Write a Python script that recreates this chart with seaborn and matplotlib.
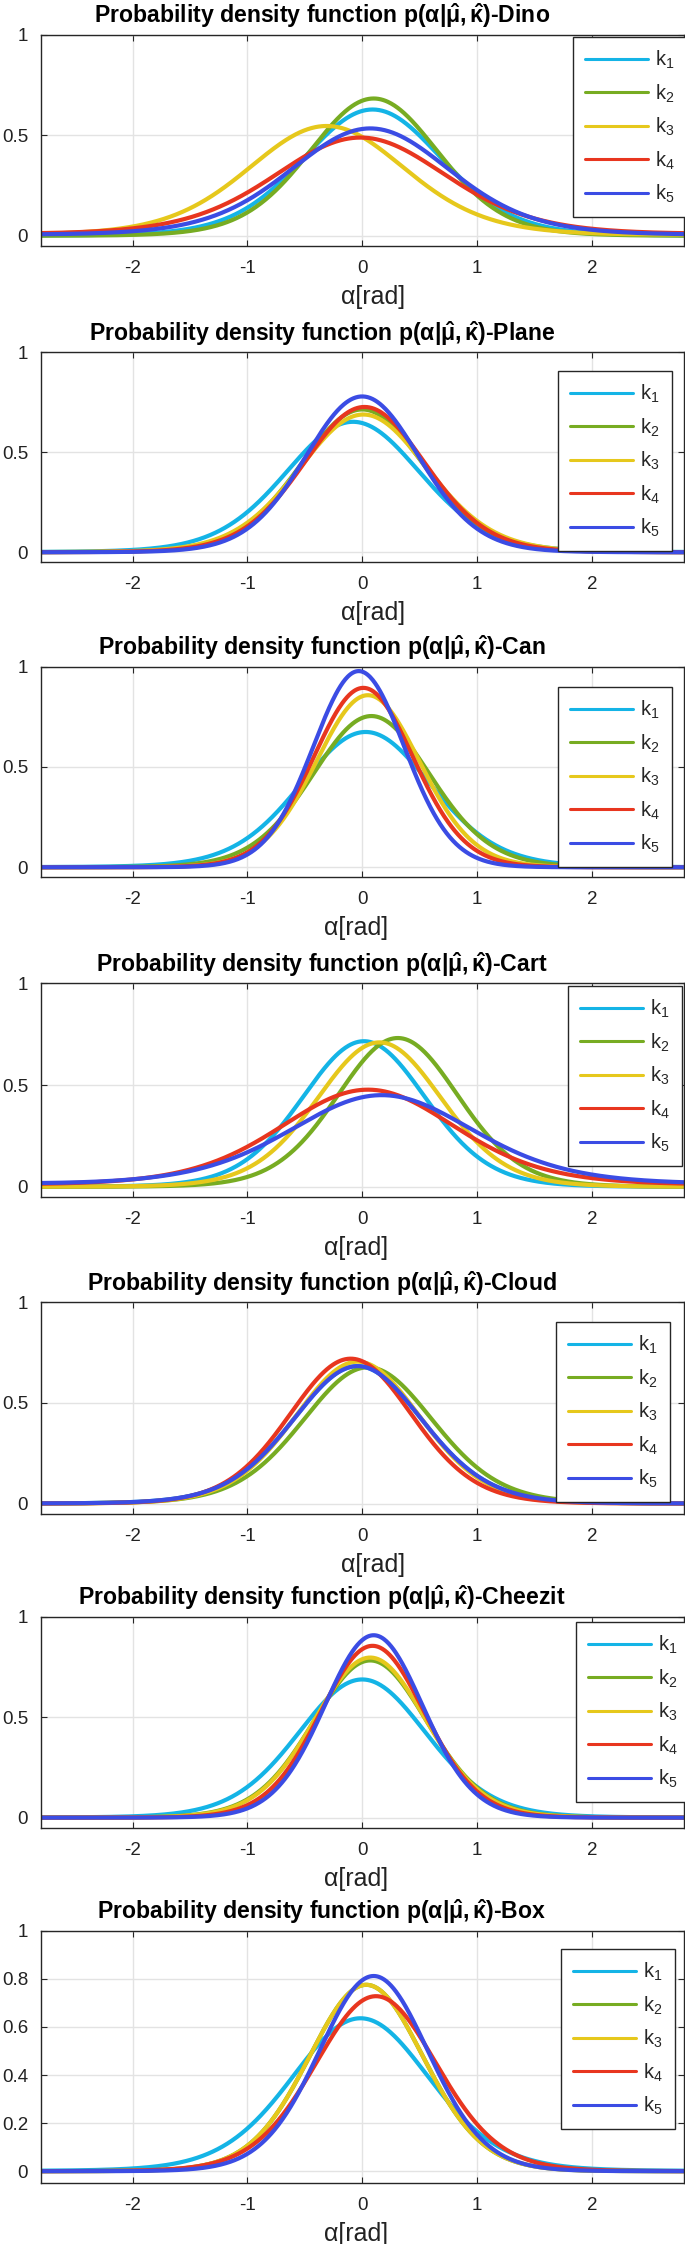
import numpy as np
import pandas as pd
import matplotlib
matplotlib.use("Agg")
import matplotlib.pyplot as plt
import seaborn as sns

# ---------------- data ----------------
objects = ["Dino", "Plane", "Can", "Cart", "Cloud", "Cheezit", "Box"]
series_labels = ["k$_1$", "k$_2$", "k$_3$", "k$_4$", "k$_5$"]

# estimated von Mises location (mu, rad) and concentration (kappa) of curves k1..k5
mu_dino = [0.09, 0.10, -0.31, -0.015, 0.07]
kappa_dino = [2.79, 3.23, 2.20, 1.83, 2.12]
mu_plane = [-0.08, 0.0, 0.01, 0.02, 0.0]
kappa_plane = [2.98, 3.50, 3.28, 3.61, 4.10]
mu_can = [0.03, 0.08, 0.05, 0.01, -0.03]
kappa_can = [3.16, 3.86, 4.90, 5.30, 6.28]
mu_cart = [0.015, 0.31, 0.15, 0.05, 0.17]
kappa_cart = [3.51, 3.65, 3.46, 1.76, 1.60]
mu_cloud = [-0.04, 0.05, -0.04, -0.10, -0.04]
kappa_cloud = [3.23, 3.18, 3.42, 3.55, 3.23]
mu_cheezit = [0.0, 0.07, 0.07, 0.09, 0.10]
kappa_cheezit = [3.27, 4.13, 4.27, 4.87, 5.45]
mu_box = [-0.015, 0.035, 0.035, 0.12, 0.10]
kappa_box = [2.85, 4.06, 4.06, 3.62, 4.42]

mus = [mu_dino, mu_plane, mu_can, mu_cart, mu_cloud, mu_cheezit, mu_box]
kappas = [kappa_dino, kappa_plane, kappa_can, kappa_cart, kappa_cloud, kappa_cheezit, kappa_box]

xticks = [-2, -1, 0, 1, 2]
yticks_std = [0, 0.5, 1]
yticklabels_std = ["0", "0.5", "1"]
yticks_box = [0, 0.2, 0.4, 0.6, 0.8, 1]
yticklabels_box = ["0", "0.2", "0.4", "0.6", "0.8", "1"]

colors = ["#14B4E6", "#77AC22", "#E6C81C", "#E8361F", "#3B4CE4"]

# ---------------- style ----------------
sns.set_theme(style="whitegrid")
plt.rcParams["font.family"] = ["Liberation Sans", "DejaVu Sans"]
plt.rcParams["mathtext.fontset"] = "custom"
plt.rcParams["mathtext.rm"] = "Liberation Sans"
plt.rcParams["mathtext.it"] = "Liberation Sans:italic"
plt.rcParams["mathtext.bf"] = "Liberation Sans:bold"
plt.rcParams["mathtext.default"] = "regular"

W, H = 685, 2244
fig = plt.figure(figsize=(W / 100, H / 100), dpi=100)
fig.patch.set_facecolor("white")


def fx(px):
    return px / W


def fy(py):
    return 1 - py / H


ax_left, ax_right = 40.7, 683.7
ax_tops = [34.7, 352.3, 666.7, 983.3, 1302.3, 1616.7, 1930.7]
ax_bottoms = [246.0, 562.3, 877.3, 1197.0, 1513.7, 1827.7, 2183.3]
xlabel_cx = [373, 373, 356, 356, 373, 356, 356]
legend_boxes = [(573, 37), (558, 371), (558, 687), (568, 986), (556, 1322), (576, 1622), (561, 1949)]

alpha = np.linspace(-2.8, 2.8, 801)
dark = "#262626"

for i, name in enumerate(objects):
    top, bot = ax_tops[i], ax_bottoms[i]
    ax = fig.add_axes([fx(ax_left), fy(bot), fx(ax_right) - fx(ax_left), (bot - top) / H])
    frames = []
    for lab, m, k in zip(series_labels, mus[i], kappas[i]):
        dens = np.exp(k * np.cos(alpha - m)) / (2 * np.pi * np.i0(k))
        frames.append(pd.DataFrame({"alpha": alpha, "density": dens, "k": lab}))
    df = pd.concat(frames, ignore_index=True)
    sns.lineplot(data=df, x="alpha", y="density", hue="k", hue_order=series_labels,
                 palette=colors, linewidth=3.0, estimator=None, sort=False,
                 legend=False, ax=ax)
    ax.set_xlim(-2.8, 2.8)
    ax.set_ylim(-0.05, 1.0)
    ax.set_xticks(xticks)
    ax.set_xticklabels([str(t) for t in xticks])
    if name == "Box":
        ax.set_yticks(yticks_box)
        ax.set_yticklabels(yticklabels_box)
    else:
        ax.set_yticks(yticks_std)
        ax.set_yticklabels(yticklabels_std)
    ax.set_xlabel("")
    ax.set_ylabel("")
    ax.set_facecolor("white")
    ax.grid(True, color="#e3e3e3", linewidth=1.0)
    for s in ax.spines.values():
        s.set_color(dark)
        s.set_linewidth(1.0)
        s.set_visible(True)
    ax.tick_params(axis="both", which="major", direction="in", length=4, width=0.8,
                   color=dark, labelcolor="#222222", labelsize=13.5,
                   top=True, right=True, bottom=True, left=True)
    ax.tick_params(axis="x", pad=10)
    ax.tick_params(axis="y", pad=9)

    # title
    fig.text(fx(322), fy(top - 11.5),
             r"Probability density function p($\alpha|\hat{\mu},\hat{\kappa}$)-" + name,
             ha="center", va="baseline", fontsize=16.6, fontweight="bold", color="black")
    # x label
    fig.text(fx(xlabel_cx[i]), fy(bot + 58), "α[rad]", ha="center", va="baseline",
             fontsize=18, color="#222222")

    lx, ly = legend_boxes[i]
    leg = ax.legend(ax.lines[:5], series_labels, loc="upper left",
                    bbox_to_anchor=(fx(lx), fy(ly)), bbox_transform=fig.transFigure,
                    borderaxespad=0, fontsize=14.5, handlelength=3.1, handletextpad=0.38,
                    labelspacing=0.55, borderpad=0.6, fancybox=False, framealpha=1)
    leg.get_frame().set_edgecolor(dark)
    leg.get_frame().set_linewidth(1.0)
    for ln in leg.get_lines():
        ln.set_linewidth(2.2)

fig.savefig("out.png", dpi=100, facecolor="white")
